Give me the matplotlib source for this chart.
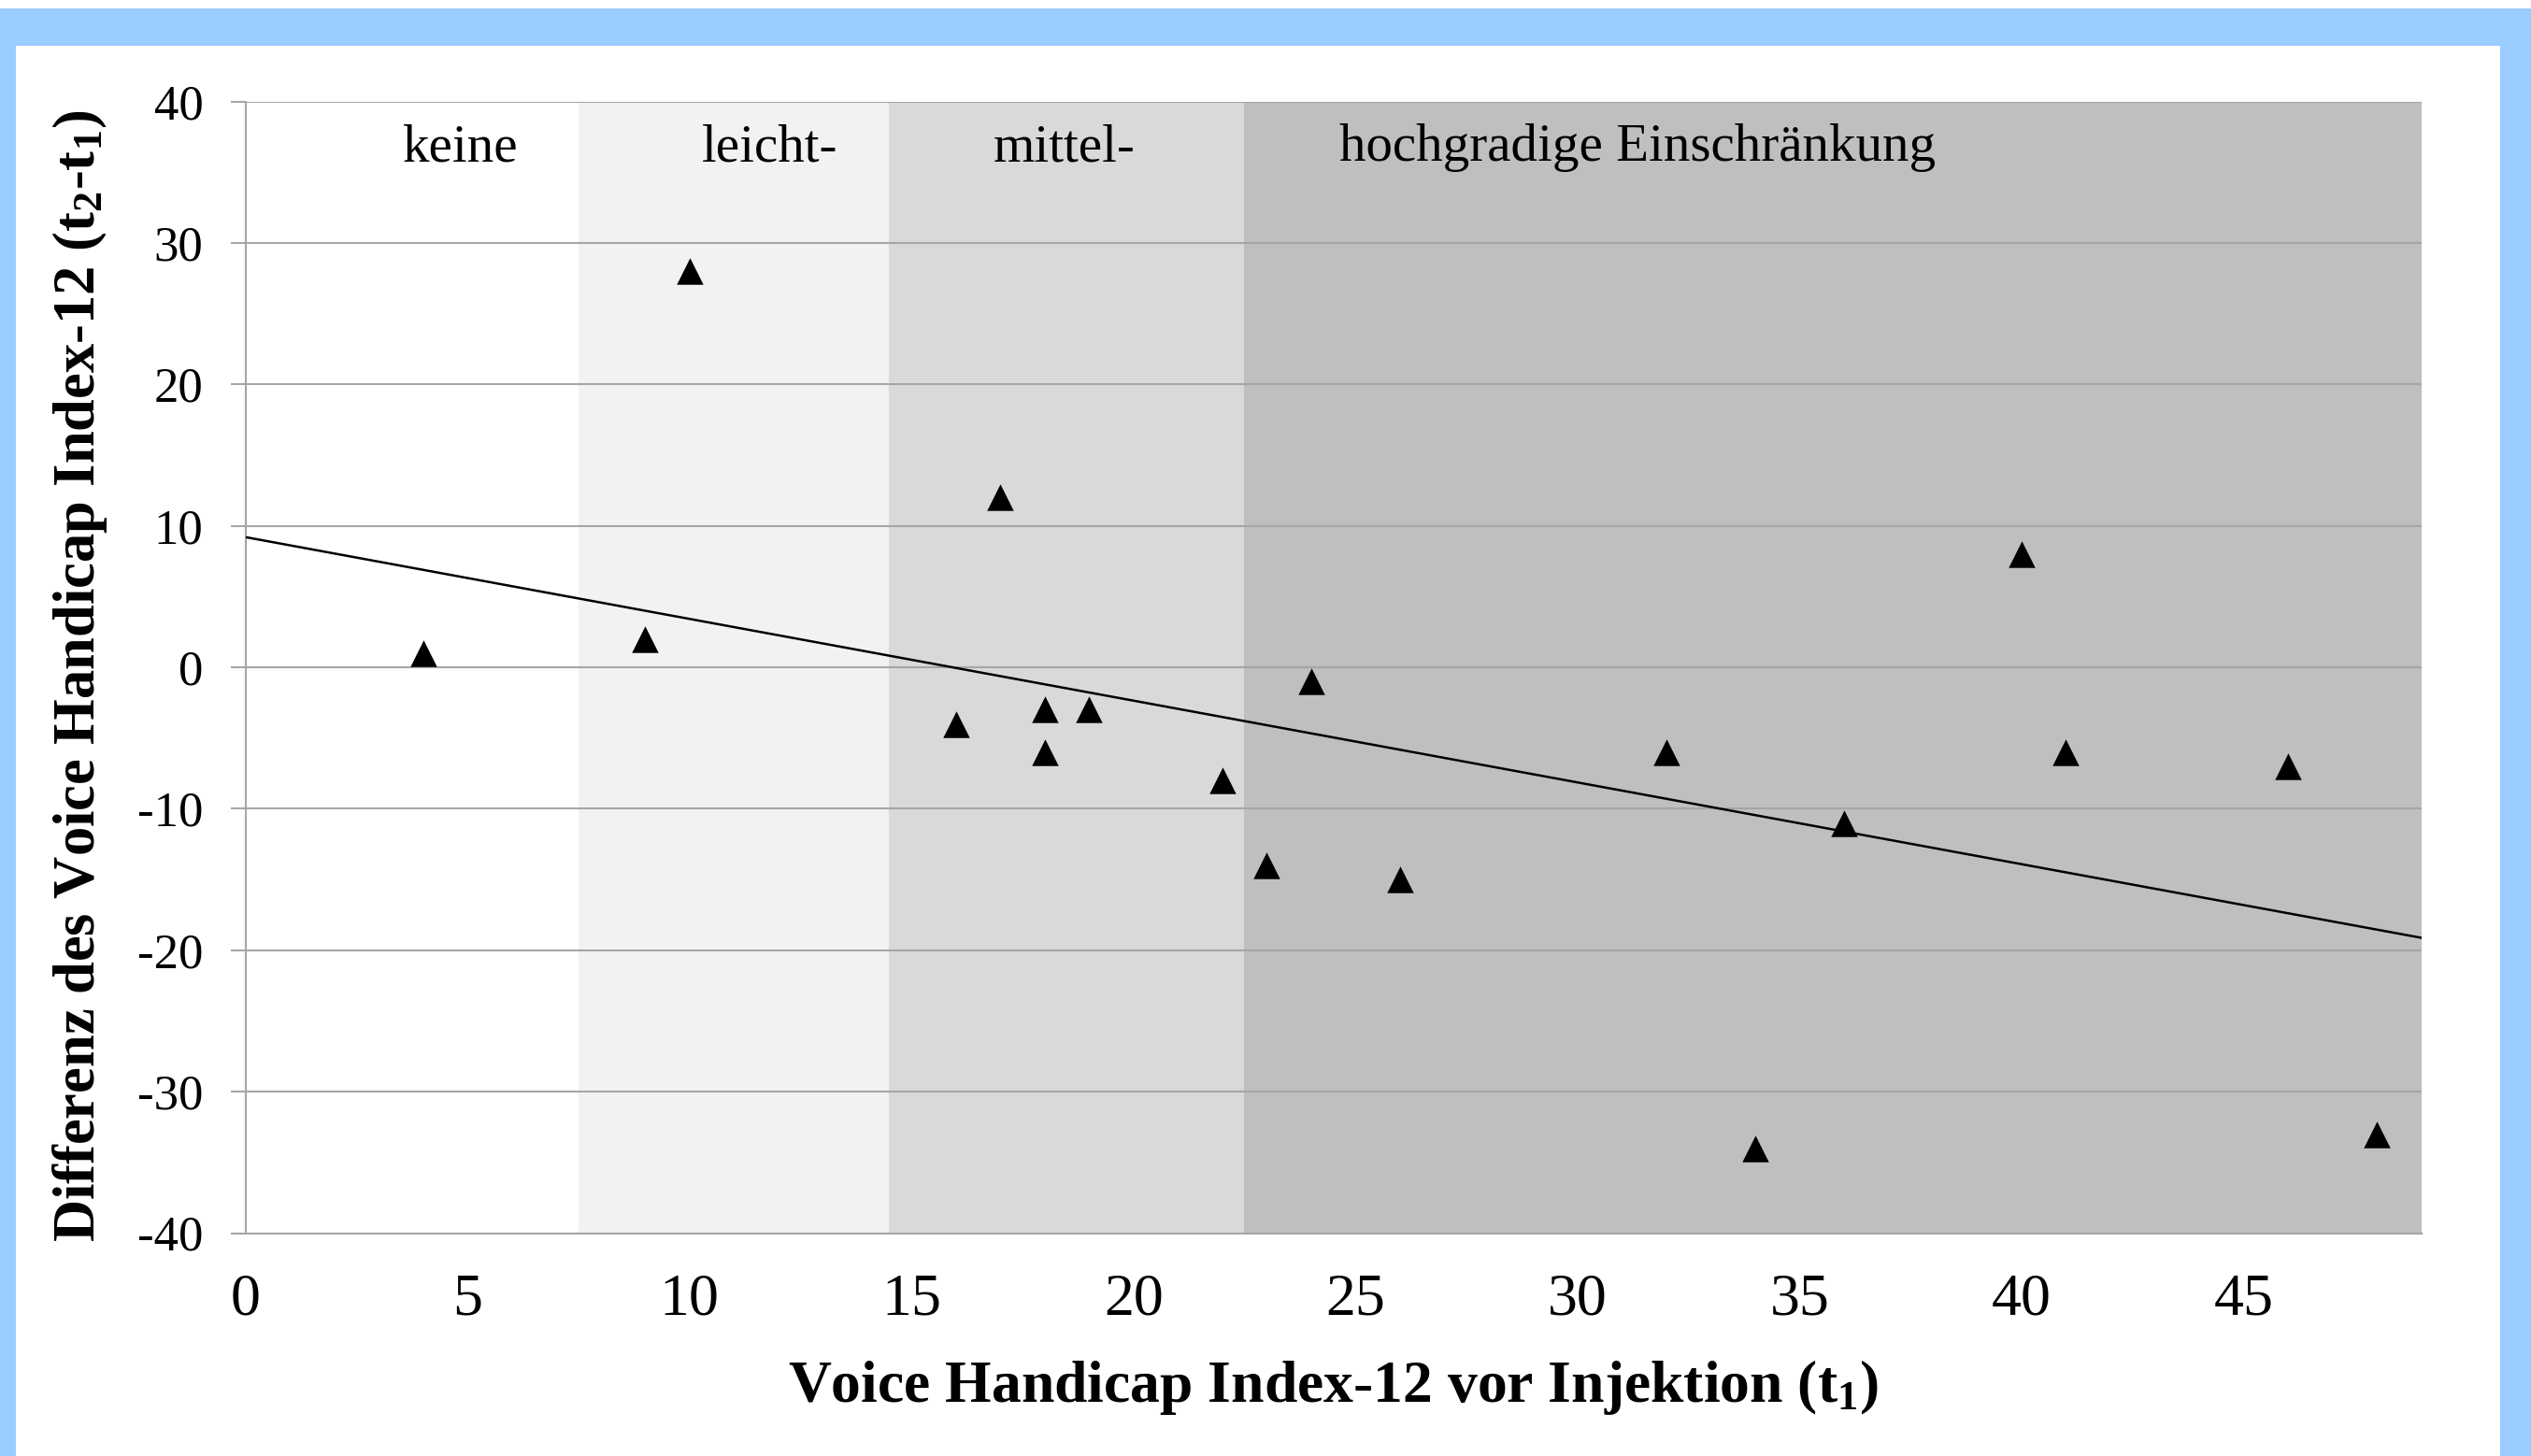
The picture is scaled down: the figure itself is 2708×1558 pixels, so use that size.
import matplotlib
matplotlib.use('Agg')
import matplotlib.pyplot as plt
from matplotlib.patches import Rectangle

plt.rcParams['font.family'] = ['Liberation Serif', 'DejaVu Serif']
plt.rcParams['mathtext.fontset'] = 'custom'
plt.rcParams['mathtext.rm'] = 'Liberation Serif'
plt.rcParams['mathtext.bf'] = 'Liberation Serif:bold'
plt.rcParams['mathtext.default'] = 'bf'

# VHI-12 vor Injektion (t1) und Differenz (t2-t1)
vhi_t1 = [4, 9, 10, 17, 16, 18, 18, 19, 22, 23, 24, 26, 32, 34, 36, 40, 41, 46, 48]
vhi_diff = [1, 2, 28, 12, -4, -3, -6, -3, -8, -14, -1, -15, -6, -34, -11, 8, -6, -7, -33]

# Einschränkungsgrade (Bereiche auf der x-Achse)
band_names = ['keine', 'leicht-', 'mittel-', 'hochgradige Einschränkung']
band_edges = [0, 7.5, 14.5, 22.5, 49]
band_colors = ['#ffffff', '#f2f2f2', '#d9d9d9', '#bfbfbf']
band_label_x = [4.85, 11.8, 18.45, 31.35]

trend_intercept = 9.2
trend_slope = -0.578

x_ticks = [0, 5, 10, 15, 20, 25, 30, 35, 40, 45]
y_ticks = [-40, -30, -20, -10, 0, 10, 20, 30, 40]

fig = plt.figure(figsize=(27.08, 15.58), dpi=100)
fig.patch.set_facecolor('white')

# blauer Rahmen
blue = '#99ccff'
fig.patches.append(Rectangle((0, 1 - 49/1558), 1, 40/1558, transform=fig.transFigure,
                             facecolor=blue, edgecolor='none', zorder=0))
fig.patches.append(Rectangle((0, 0), 17/2708, 1 - 9/1558, transform=fig.transFigure,
                             facecolor=blue, edgecolor='none', zorder=0))
fig.patches.append(Rectangle((2675/2708, 0), 33/2708, 1 - 9/1558, transform=fig.transFigure,
                             facecolor=blue, edgecolor='none', zorder=0))

ax = fig.add_axes([262.5/2708, 1 - 1319.5/1558, 2328/2708, 1211/1558])
ax.set_facecolor('white')

for i in range(len(band_names)):
    ax.axvspan(band_edges[i], band_edges[i + 1], color=band_colors[i], lw=0, zorder=0)
    ax.text(band_label_x[i], 36.7, band_names[i], ha='center', va='center', fontsize=41, zorder=3)

ax.set_xlim(band_edges[0], band_edges[-1])
ax.set_ylim(-40, 40)
ax.set_yticks(y_ticks)
ax.set_xticks(x_ticks)
ax.grid(axis='y', color='#a6a6a6', lw=1.5, zorder=1)
ax.set_axisbelow(True)

xs = [band_edges[0], band_edges[-1]]
ax.plot(xs, [trend_intercept + trend_slope * v for v in xs], color='black', lw=1.8, zorder=4)
ax.scatter(vhi_t1, vhi_diff, marker='^', s=420, color='black', lw=0, zorder=5)

for s in ['top', 'right']:
    ax.spines[s].set_visible(False)
for s in ['left', 'bottom']:
    ax.spines[s].set_color('#a6a6a6')
    ax.spines[s].set_linewidth(1.5)

ax.tick_params(axis='y', length=11.5, width=1.5, color='#a6a6a6', pad=21, labelsize=38)
ax.tick_params(axis='x', length=0, pad=31, labelsize=46)
ax.set_yticklabels([str(v) for v in y_ticks])

ax.set_xlabel('Voice Handicap Index-12 vor Injektion (t$_1$)', fontsize=45.8, fontweight='bold')
ax.xaxis.set_label_coords(0.5, -0.110)
ax.set_ylabel('Differenz des Voice Handicap Index-12 (t$_2$-t$_1$)', fontsize=45, fontweight='bold')
ax.yaxis.set_label_coords(-0.0625, 0.4926)

fig.savefig('out.png', dpi=100)
